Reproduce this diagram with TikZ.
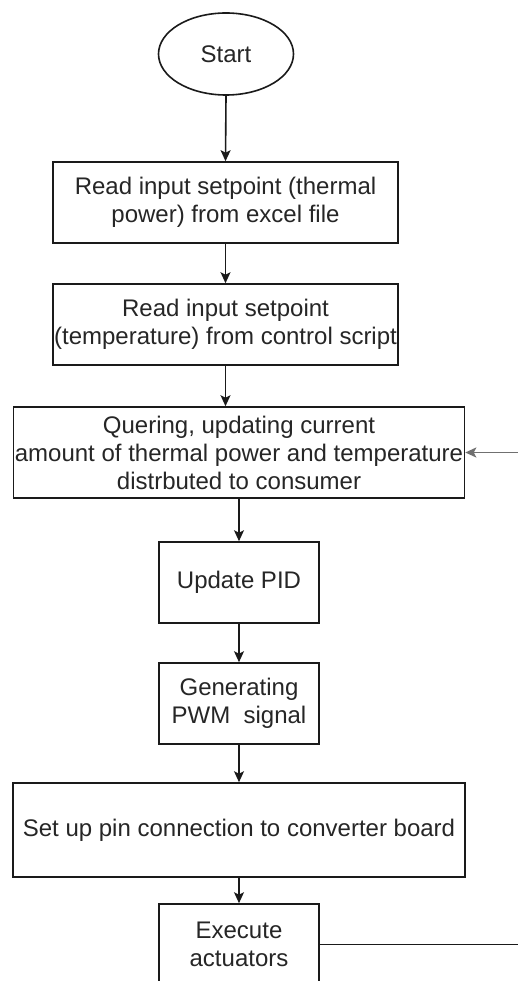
\documentclass[tikz,border=0pt]{standalone}
\usepackage{fontspec}
\setmainfont{Liberation Sans}
\usetikzlibrary{shapes.geometric,arrows.meta}
\definecolor{txt}{HTML}{262626}
\definecolor{ln}{HTML}{1A1A1A}
\definecolor{fb}{HTML}{707070}
\begin{document}
\begin{tikzpicture}[x=1pt,y=-1pt,
  box/.style={draw=ln, line width=1.6pt, fill=white, inner sep=0pt, align=center,
    font=\fontsize{24}{28}\selectfont, text=txt},
  arr/.style={draw=ln, line width=1.6pt, -{Stealth[length=11pt,width=10pt,inset=2.5pt]}},
  fbarr/.style={draw=fb, line width=1.8pt, -{Stealth[length=11pt,width=10pt,inset=2.5pt]}},
  fbline/.style={draw=ln, line width=1.6pt}
]
\useasboundingbox (0,0) rectangle (518,981);
\clip (0,0) rectangle (518,981);
\fill[white] (0,0) rectangle (518,981);

\node[box, ellipse, minimum width=135pt, minimum height=82pt] (start) at (226,54) {Start};
\node[box, minimum width=345pt, minimum height=81pt] (b1) at (225.5,202.5) {Read input setpoint (thermal\\power) from excel file};
\node[box, minimum width=345pt, minimum height=81pt] (b2) at (225.5,324.5) {Read input setpoint\\(temperature) from control script};
\node[box, minimum width=451pt, minimum height=91pt] (b3) at (239,452.5) {Quering, updating current\\amount of thermal power and temperature\\distrbuted to consumer};
\node[box, minimum width=160pt, minimum height=81pt] (pid) at (239,582.5) {Update PID};
\node[box, minimum width=160pt, minimum height=81pt] (pwm) at (239,703.5) {Generating\\PWM~~signal};
\node[box, minimum width=452pt, minimum height=94pt] (pin) at (239,830) {Set up pin connection to converter board};
\node[box, minimum width=160pt, minimum height=81pt] (exe) at (239,944.5) {Execute\\actuators};

\coordinate (fbin) at (520,452.5);
\coordinate (fbout) at (520,944.5);

\draw[arr] (start.south) -- (b1.north);
\draw[arr] (b1.south) -- (b2.north);
\draw[arr] (b2.south) -- (b2.south |- b3.north);
\draw[arr] (b3.south) -- (pid.north);
\draw[arr] (pid.south) -- (pwm.north);
\draw[arr] (pwm.south) -- (pin.north);
\draw[arr] (pin.south) -- (exe.north);
\draw[fbarr] (fbin) -- (b3.east);
\draw[fbline] (exe.east) -- (fbout);
\end{tikzpicture}
\end{document}
